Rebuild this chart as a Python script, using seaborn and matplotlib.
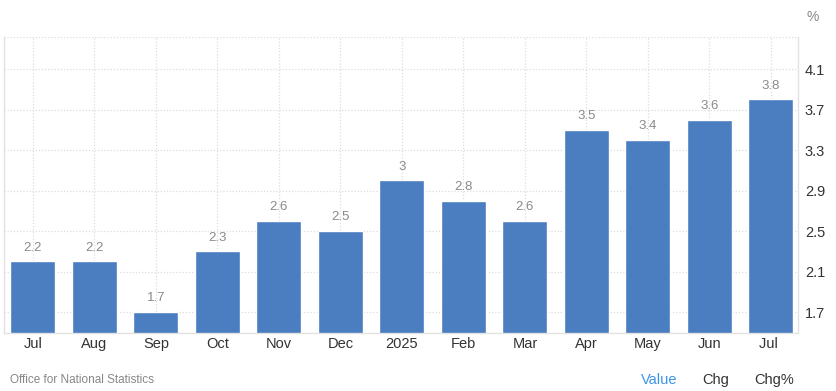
import matplotlib
matplotlib.use("Agg")
import matplotlib.pyplot as plt
import seaborn as sns
import pandas as pd

categories = ["Jul", "Aug", "Sep", "Oct", "Nov", "Dec", "2025", "Feb", "Mar", "Apr", "May", "Jun", "Jul "]
values = [2.2, 2.2, 1.7, 2.3, 2.6, 2.5, 3.0, 2.8, 2.6, 3.5, 3.4, 3.6, 3.8]
yticks = [1.7, 2.1, 2.5, 2.9, 3.3, 3.7, 4.1]
value_labels = ["2.2", "2.2", "1.7", "2.3", "2.6", "2.5", "3", "2.8", "2.6", "3.5", "3.4", "3.6", "3.8"]

df = pd.DataFrame({"cat": categories, "val": values})

sns.set_theme(style="white")
plt.rcParams['font.family'] = ['Liberation Sans', 'DejaVu Sans']

W, H = 837, 391
fig = plt.figure(figsize=(W / 100, H / 100), dpi=100)
ax = fig.add_axes([4 / W, (H - 333) / H, (798 - 4) / W, (333 - 37) / H])

sns.barplot(data=df, x="cat", y="val", color="#4a7ec0", saturation=1, width=0.73, ax=ax, zorder=2)

ax.set_ylim(1.493, 4.416)
ax.set_xlim(-0.47, len(categories) - 1 + 0.44)
ax.set_yticks(yticks)
ax.set_yticklabels([f"{t:g}" for t in yticks])
ax.yaxis.tick_right()
ax.tick_params(axis="y", length=0, pad=5, labelsize=10.5, labelcolor="#333333")
ax.tick_params(axis="x", length=0, pad=3, labelsize=10.5, labelcolor="#333333")
ax.set_xlabel("")
ax.set_ylabel("")

ax.grid(True, axis="both", color="#dddddd", linestyle=(0, (1, 1.5)), linewidth=0.9, zorder=0)
ax.axhline(4.416, color="#dddddd", linestyle=(0, (1, 1.5)), linewidth=0.9, zorder=0)
ax.set_axisbelow(True)

ax.spines["top"].set_visible(False)
for s in ["left", "right", "bottom"]:
    ax.spines[s].set_color("#e2e2e2")
    ax.spines[s].set_linewidth(1)

for i, (v, lab) in enumerate(zip(values, value_labels)):
    ax.annotate(lab, (i, v), xytext=(0, 5.5), textcoords="offset points",
                ha="center", va="bottom", fontsize=9.5, color="#8a8a8a")

fig.text(813 / W, 1 - 17 / H, "%", ha="center", va="center", fontsize=10, color="#888888")
fig.text(10 / W, 1 - 380 / H, "Office for National Statistics", ha="left", va="center",
         fontsize=8.5, color="#888888")
fig.text(659 / W, 1 - 380 / H, "Value", ha="center", va="center", fontsize=10.5, color="#3d95ea")
fig.text(716 / W, 1 - 380 / H, "Chg", ha="center", va="center", fontsize=10.5, color="#333333")
fig.text(774 / W, 1 - 380 / H, "Chg%", ha="center", va="center", fontsize=10.5, color="#333333")

fig.savefig("out.png", dpi=100)
